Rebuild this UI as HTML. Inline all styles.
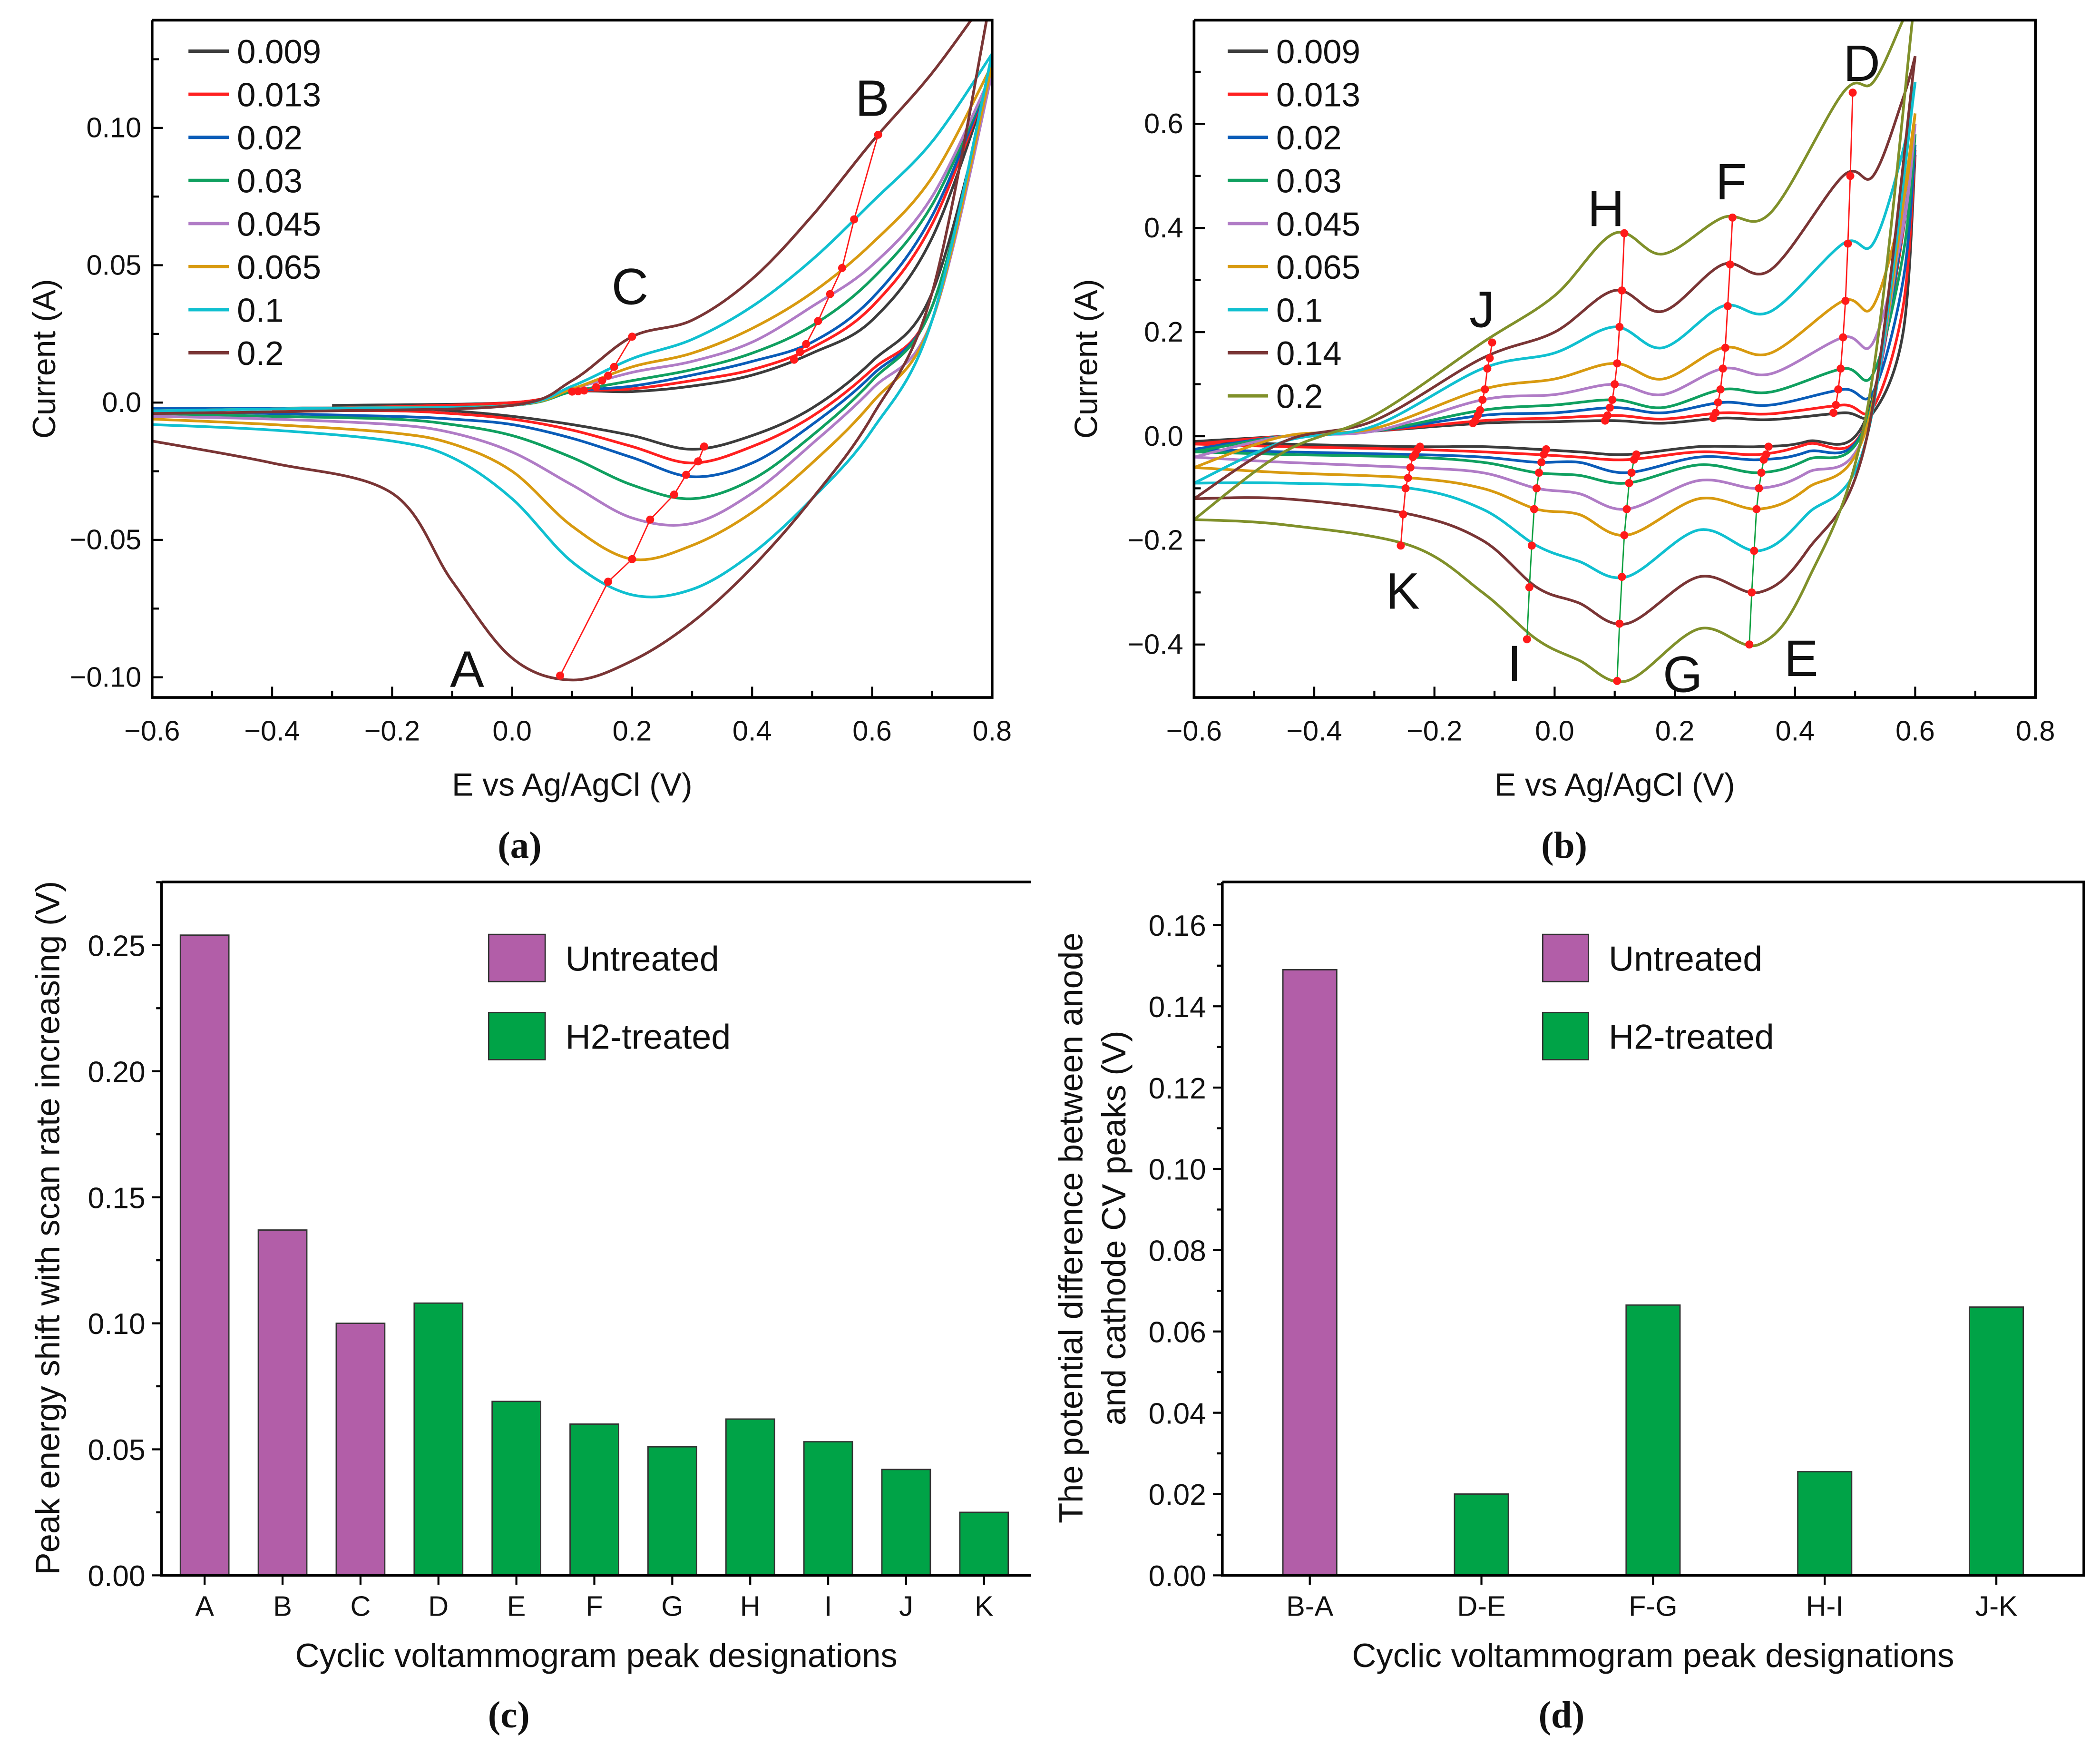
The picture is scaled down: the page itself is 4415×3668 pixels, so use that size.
<!DOCTYPE html>
<html><head><meta charset="utf-8"><style>
html,body{margin:0;padding:0;background:#fff;}
svg{display:block;font-family:"Liberation Sans",sans-serif;}
</style></head><body>
<svg id="fig" width="4415" height="3668" viewBox="0 0 1560 1296" preserveAspectRatio="none" xmlns="http://www.w3.org/2000/svg">
<rect width="1560" height="1296" fill="#fff"/>
<g id="pa"></g>
<g id="pb"></g>
<g id="pc"></g>
<g id="pd"></g>
</svg>
<script>
// ---------- Panel (a) data ----------
const aRates = ["0.009","0.013","0.02","0.03","0.045","0.065","0.1","0.2"];
const aColors = ["#3c3c3c","#ff2020","#0a5cb8","#10a060","#b07cc6","#d89a10","#10c0d0","#7a3535"];
const aUpE = [-0.6,-0.3,0,0.1,0.2,0.3,0.4,0.5,0.6,0.7,0.8];
const aLoE = [0.8,0.7,0.6,0.5,0.4,0.3,0.2,0.1,0,-0.1,-0.2,-0.4,-0.6];
const aUp = [
 [null,-0.001,0,0.004,0.004,0.006,0.01,0.018,0.03,0.06,0.12],
 [null,-0.002,0,0.004,0.005,0.008,0.012,0.02,0.035,0.065,0.12],
 [-0.002,-0.002,-0.001,0.004,0.006,0.01,0.015,0.022,0.038,0.068,0.12],
 [-0.003,-0.002,-0.001,0.004,0.008,0.012,0.018,0.028,0.045,0.072,0.12],
 [-0.003,-0.002,-0.001,0.005,0.011,0.015,0.022,0.035,0.05,0.075,0.12],
 [-0.003,-0.002,-0.001,0.005,0.013,0.018,0.027,0.04,0.058,0.082,0.123],
 [-0.003,-0.002,-0.001,0.006,0.016,0.023,0.035,0.052,0.073,0.095,0.127],
 [-0.004,-0.003,-0.001,0.008,0.024,0.03,0.045,0.068,0.095,0.12,0.15]
];
const aLo = [
 [0.12,0.04,0.015,-0.002,-0.012,-0.017,-0.012,-0.008,-0.005,-0.003,-0.002,-0.002,null],
 [0.12,0.035,0.012,-0.005,-0.016,-0.022,-0.016,-0.01,-0.006,-0.004,-0.003,-0.003,null],
 [0.12,0.035,0.01,-0.008,-0.022,-0.027,-0.02,-0.013,-0.008,-0.006,-0.005,-0.004,-0.003],
 [0.12,0.035,0.008,-0.012,-0.028,-0.035,-0.03,-0.02,-0.012,-0.008,-0.006,-0.005,-0.004],
 [0.12,0.03,0.005,-0.015,-0.033,-0.044,-0.042,-0.03,-0.018,-0.011,-0.008,-0.006,-0.005],
 [0.123,0.03,0.0,-0.022,-0.04,-0.052,-0.057,-0.045,-0.025,-0.015,-0.011,-0.008,-0.006],
 [0.127,0.03,-0.01,-0.035,-0.055,-0.068,-0.07,-0.058,-0.035,-0.02,-0.014,-0.01,-0.008],
 [0.15,0.04,-0.005,-0.035,-0.06,-0.08,-0.094,-0.101,-0.093,-0.065,-0.033,-0.022,-0.014]
];
const aPeakAE = [0.32,0.31,0.29,0.27,0.23,0.2,0.16,0.08];
const aPeakBE = [0.47,0.48,0.49,0.51,0.53,0.55,0.57,0.61];
const aPeakCE = [0.1,0.11,0.12,0.14,0.15,0.16,0.17,0.2];
const aXTicks = [-0.6,-0.4,-0.2,0.0,0.2,0.4,0.6,0.8];
const aXLabels = ["\u22120.6","\u22120.4","\u22120.2","0.0","0.2","0.4","0.6","0.8"];
const aYTicks = [-0.1,-0.05,0,0.05,0.1];
const aYLabels = ["\u22120.10","\u22120.05","0.0","0.05","0.10"];

// ---------- Panel (b) data ----------
const bRates = ["0.009","0.013","0.02","0.03","0.045","0.065","0.1","0.14","0.2"];
const bColors = ["#3c3c3c","#ff2020","#0a5cb8","#10a060","#b07cc6","#d89a10","#10c0d0","#7a3535","#80902a"];
const bUpE = [-0.6,-0.45,-0.3,-0.12,0.0,0.1,0.18,0.28,0.36,0.48,0.53,0.58,0.6];
const bLoE = [0.6,0.52,0.42,0.34,0.24,0.12,0.04,-0.03,-0.12,-0.24,-0.45,-0.6];
const bUp = [
 [-0.01,0,0.01,0.025,0.028,0.03,0.025,0.035,0.032,0.045,0.045,0.2,0.54],
 [-0.015,0,0.01,0.03,0.035,0.04,0.033,0.045,0.043,0.06,0.055,0.25,0.55],
 [-0.025,0,0.01,0.04,0.045,0.055,0.045,0.065,0.06,0.09,0.085,0.3,0.56],
 [-0.03,0,0.01,0.05,0.06,0.07,0.055,0.09,0.085,0.13,0.12,0.35,0.58],
 [-0.04,0,0.01,0.07,0.08,0.1,0.08,0.13,0.12,0.19,0.18,0.4,0.6],
 [-0.06,0,0.015,0.09,0.11,0.14,0.11,0.17,0.16,0.26,0.25,0.45,0.62],
 [-0.09,-0.01,0.02,0.13,0.16,0.21,0.17,0.25,0.24,0.37,0.37,0.55,0.68],
 [-0.12,-0.01,0.03,0.15,0.2,0.28,0.24,0.33,0.32,0.5,0.5,0.65,0.73],
 [-0.16,-0.03,0.04,0.18,0.27,0.39,0.35,0.42,0.43,0.66,0.68,0.8,0.85]
];
const bLo = [
 [0.54,0.04,-0.01,-0.02,-0.02,-0.035,-0.03,-0.025,-0.02,-0.02,-0.015,-0.01],
 [0.55,0.03,-0.015,-0.035,-0.03,-0.045,-0.04,-0.035,-0.03,-0.025,-0.02,-0.015],
 [0.56,0.03,-0.03,-0.045,-0.04,-0.07,-0.05,-0.05,-0.04,-0.035,-0.03,-0.025],
 [0.58,0.03,-0.045,-0.07,-0.055,-0.09,-0.075,-0.07,-0.05,-0.04,-0.035,-0.03],
 [0.6,0.02,-0.07,-0.1,-0.085,-0.14,-0.11,-0.1,-0.07,-0.06,-0.05,-0.04],
 [0.62,0.02,-0.1,-0.14,-0.12,-0.19,-0.15,-0.14,-0.1,-0.08,-0.07,-0.06],
 [0.68,0.0,-0.15,-0.22,-0.18,-0.27,-0.24,-0.21,-0.14,-0.1,-0.09,-0.09],
 [0.73,0.0,-0.22,-0.3,-0.27,-0.36,-0.32,-0.29,-0.2,-0.15,-0.12,-0.12],
 [0.85,0.05,-0.28,-0.4,-0.37,-0.47,-0.43,-0.39,-0.3,-0.21,-0.17,-0.16]
];
const bUpPeakIdx = [3,5,7,9];   // J H F D
const bLoPeakIdx = [3,5,7,9];   // E G I K
const bLoPeakColors = ["#10a040","#10a040","#10a040","#ff2020"];
const bXTicks = [-0.6,-0.4,-0.2,0.0,0.2,0.4,0.6,0.8];
const bXLabels = ["\u22120.6","\u22120.4","\u22120.2","0.0","0.2","0.4","0.6","0.8"];
const bYTicks = [-0.4,-0.2,0,0.2,0.4,0.6];
const bYLabels = ["\u22120.4","\u22120.2","0.0","0.2","0.4","0.6"];

// ---------- Panel (c) data ----------
const cCats = ["A","B","C","D","E","F","G","H","I","J","K"];
const cVals = [0.254,0.137,0.100,0.108,0.069,0.060,0.051,0.062,0.053,0.042,0.025];
const cGroup = [0,0,0,1,1,1,1,1,1,1,1];
const cYTicks = [0,0.05,0.1,0.15,0.2,0.25];
const cYLabels = ["0.00","0.05","0.10","0.15","0.20","0.25"];

// ---------- Panel (d) data ----------
const dCats = ["B-A","D-E","F-G","H-I","J-K"];
const dVals = [0.149,0.020,0.0665,0.0255,0.066];
const dGroup = [0,1,1,1,1];
const dYTicks = [0,0.02,0.04,0.06,0.08,0.1,0.12,0.14,0.16];
const dYLabels = ["0.00","0.02","0.04","0.06","0.08","0.10","0.12","0.14","0.16"];

const groupColors = ["#b25ea8","#00a347"];
const NS="http://www.w3.org/2000/svg";
function el(tag,attrs,parent,text){const e=document.createElementNS(NS,tag);for(const k in attrs)e.setAttribute(k,attrs[k]);if(text!==undefined)e.textContent=text;parent.appendChild(e);return e;}
function lin(d0,d1,r0,r1){return v=>r0+(v-d0)*(r1-r0)/(d1-d0);}
function smooth(pts){
 if(pts.length<2)return "";
 let d="M"+pts[0][0].toFixed(2)+","+pts[0][1].toFixed(2);
 for(let i=0;i<pts.length-1;i++){
  const p0=pts[i-1]||pts[i],p1=pts[i],p2=pts[i+1],p3=pts[i+2]||p2;
  const c1=[p1[0]+(p2[0]-p0[0])/6,p1[1]+(p2[1]-p0[1])/6];
  const c2=[p2[0]-(p3[0]-p1[0])/6,p2[1]-(p3[1]-p1[1])/6];
  d+="C"+c1[0].toFixed(2)+","+c1[1].toFixed(2)+" "+c2[0].toFixed(2)+","+c2[1].toFixed(2)+" "+p2[0].toFixed(2)+","+p2[1].toFixed(2);
 }
 return d;
}
function interp(E,I,e){
 for(let i=0;i<E.length-1;i++){
  const a=E[i],b=E[i+1];
  if((e-a)*(e-b)<=0&&I[i]!==null&&I[i+1]!==null){return I[i]+(I[i+1]-I[i])*(e-a)/(b-a);}
 }
 return null;
}
function frame(g,x0,y0,x1,y1,right){
 const f=el("path",{d:`M${x0},${y0}V${y1}H${x1}`+(right?`V${y0}H${x0}`:`M${x0},${y0}H${x1}`),fill:"none",stroke:"#000","stroke-width":2},g);
 
 
}
function text(g,x,y,s,size,name,anchor,extra){
 const t=el("text",Object.assign({x:x,y:y,"font-size":size,"text-anchor":anchor||"middle",fill:"#111"},extra||{}),g,s);
 
 
 return t;
}

function cvPanel(g,opt){
 const X=lin(-0.6,0.8,opt.x0,opt.x1), Y=lin(opt.ya,opt.yb,opt.pa,opt.pb);
 const clipId=opt.id+"clip";
 const cp=el("clipPath",{id:clipId},g); el("rect",{x:opt.x0,y:opt.y0,width:opt.x1-opt.x0,height:opt.y1-opt.y0},cp);
 opt.xt.forEach((v,i)=>{
  const t=el("line",{x1:X(v),x2:X(v),y1:opt.y1,y2:opt.y1-8,stroke:"#000","stroke-width":1.5},g);
  
  
  if(i<opt.xt.length-1){const m=el("line",{x1:X(v+0.1),x2:X(v+0.1),y1:opt.y1,y2:opt.y1-5,stroke:"#000","stroke-width":1.5},g);
   
   }
  text(g,X(v),opt.y1+32,opt.xl[i],21,"x-tick-label");
 });
 opt.yt.forEach((v,i)=>{
  const t=el("line",{x1:opt.x0,x2:opt.x0+8,y1:Y(v),y2:Y(v),stroke:"#000","stroke-width":1.5},g);
  
  
  const mv=v+opt.ystep/2; if(Y(mv)>opt.y0){const m=el("line",{x1:opt.x0,x2:opt.x0+5,y1:Y(mv),y2:Y(mv),stroke:"#000","stroke-width":1.5},g);
   
   }
  text(g,opt.x0-8,Y(v)+7,opt.yl[i],21,"y-tick-label","end");
 });
 const cg=el("g",{"clip-path":`url(#${clipId})`},g);
 
 
 opt.rates.forEach((r,k)=>{
  const up=[];opt.upE.forEach((e,i)=>{if(opt.up[k][i]!==null)up.push([X(e),Y(opt.up[k][i])]);});
  const lo=[];opt.loE.forEach((e,i)=>{if(opt.lo[k][i]!==null)lo.push([X(e),Y(opt.lo[k][i])]);});
  const p1=el("path",{d:smooth(up),fill:"none",stroke:opt.colors[k],"stroke-width":2},cg);
  
  
  const p2=el("path",{d:smooth(lo),fill:"none",stroke:opt.colors[k],"stroke-width":2},cg);
  
  
 });
 opt.rates.forEach((r,k)=>{
  const y=opt.ly+k*32;
  const l=el("line",{x1:opt.lx,x2:opt.lx+30,y1:y,y2:y,stroke:opt.colors[k],"stroke-width":2.5},g);
  
  
  text(g,opt.lx+36,y+9,r,25,"legend-label-"+r,"start");
 });
 frame(g,opt.x0,opt.y0,opt.x1,opt.y1,true);
 text(g,(opt.x0+opt.x1)/2,591,"E vs Ag/AgCl (V)",24,"x-axis-title");
 text(g,0,0,"Current (A)",24,"y-axis-title","middle",{transform:`translate(${opt.x0-72},${(opt.y0+opt.y1)/2}) rotate(-90)`});
 return {X,Y,cg};
}
function peakLine(cg,pts,color,name){
 const pl=el("polyline",{points:pts.map(p=>p.join(",")).join(" "),fill:"none",stroke:color,"stroke-width":1},cg);
 
 
 pts.forEach(p=>{const c=el("circle",{cx:p[0],cy:p[1],r:3,fill:"#ff1a1a"},cg);
  
  });
}

(function(){
 const g=document.getElementById("pa");
 const r=cvPanel(g,{id:"a",x0:113,x1:737,y0:15,y1:518,ya:0,yb:0.1,pa:299,pb:95,ystep:0.05,
  rates:aRates,colors:aColors,upE:aUpE,loE:aLoE,up:aUp,lo:aLo,xt:aXTicks,xl:aXLabels,yt:aYTicks,yl:aYLabels,lx:140,ly:38});
 const A=aRates.map((_,k)=>[r.X(aPeakAE[k]),r.Y(interp(aLoE,aLo[k],aPeakAE[k]))]);
 const B=aRates.map((_,k)=>[r.X(aPeakBE[k]),r.Y(interp(aUpE,aUp[k],aPeakBE[k]))]);
 const C=aRates.map((_,k)=>[r.X(aPeakCE[k]),r.Y(interp(aUpE,aUp[k],aPeakCE[k]))]);
 peakLine(r.cg,A,"#ff1a1a","peak-A");peakLine(r.cg,B,"#ff1a1a","peak-B");peakLine(r.cg,C,"#ff1a1a","peak-C");
 text(g,347,510,"A",38,"peak-label-A");text(g,648,86,"B",38,"peak-label-B");text(g,468,226,"C",38,"peak-label-C");
 text(g,386,637,"(a)",28,"panel-label-a","middle",{"font-family":"Liberation Serif, serif","font-weight":"bold"});
})();
(function(){
 const g=document.getElementById("pb");
 const r=cvPanel(g,{id:"b",x0:887,x1:1512,y0:15,y1:518,ya:0,yb:0.6,pa:324,pb:92,ystep:0.2,
  rates:bRates,colors:bColors,upE:bUpE,loE:bLoE,up:bUp,lo:bLo,xt:bXTicks,xl:bXLabels,yt:bYTicks,yl:bYLabels,lx:912,ly:38});
 bUpPeakIdx.forEach((ix,j)=>{
  const pts=bRates.map((_,k)=>[r.X(bUpE[ix]+0.004*(k-4)),r.Y(bUp[k][ix])]);
  peakLine(r.cg,pts,"#ff1a1a","peak-"+["J","H","F","D"][j]);
 });
 bLoPeakIdx.forEach((ix,j)=>{
  const pts=bRates.map((_,k)=>[r.X(bLoE[ix]-0.004*(k-4)),r.Y(bLo[k][ix])]);
  peakLine(r.cg,pts,bLoPeakColors[j],"peak-"+["E","G","I","K"][j]);
 });
 const labs=[["D",1383,60],["F",1286,148],["H",1193,168],["J",1101,243],["K",1042,452],["I",1125,506],["G",1250,514],["E",1338,502]];
 labs.forEach(l=>text(g,l[1],l[2],l[0],38,"peak-label-"+l[0]));
 text(g,1162,637,"(b)",28,"panel-label-b","middle",{"font-family":"Liberation Serif, serif","font-weight":"bold"});
})();
function barPanel(g,opt){
 const Y=lin(0,opt.ymax,opt.y1,opt.yTop);
 opt.yt.forEach((v,i)=>{
  const t=el("line",{x1:opt.x0,x2:opt.x0-7,y1:Y(v),y2:Y(v),stroke:"#000","stroke-width":1.5},g);
  
  
  const mv=v+opt.ystep/2; if(Y(mv)>opt.y0){const m=el("line",{x1:opt.x0,x2:opt.x0-4,y1:Y(mv),y2:Y(mv),stroke:"#000","stroke-width":1.5},g);
   
   }
  text(g,opt.x0-12,Y(v)+8,opt.yl[i],22,"y-tick-label","end");
 });
 opt.cats.forEach((c,i)=>{
  const cx=opt.c0+i*opt.step;
  const b=el("rect",{x:cx-opt.bw/2,y:Y(opt.vals[i]),width:opt.bw,height:opt.y1-Y(opt.vals[i]),fill:groupColors[opt.group[i]],stroke:"#333","stroke-width":1},g);
  
  
  const t=el("line",{x1:cx,x2:cx,y1:opt.y1,y2:opt.y1+7,stroke:"#000","stroke-width":1.5},g);
  
  
  text(g,cx,opt.y1+30,c,21,"x-tick-label");
 });
 frame(g,opt.x0,opt.y0,opt.x1,opt.y1,opt.right);
 [["Untreated",0],["H2-treated",1]].forEach((L,i)=>{
  const y=opt.ly+i*58;
  const s=el("rect",{x:opt.lx,y:y,width:opt.lw,height:35,fill:groupColors[L[1]],stroke:"#333","stroke-width":1},g);
  
  
  text(g,opt.lx+opt.lw+15,y+27,L[0],26,"legend-label-"+L[0].toLowerCase(),"start");
 });
 text(g,(opt.x0+opt.x1)/2,1238,"Cyclic voltammogram peak designations",25,"x-axis-title");
}
(function(){
 const g=document.getElementById("pc");
 barPanel(g,{x0:120,x1:766,y0:655,y1:1170,yTop:702,ymax:0.25,ystep:0.05,yt:cYTicks,yl:cYLabels,
  cats:cCats,vals:cVals,group:cGroup,c0:152,step:57.9,bw:36,right:false,lx:363,lw:42,ly:694});
 text(g,0,0,"Peak energy shift with scan rate increasing (V)",25,"y-axis-title","middle",{transform:"translate(44,912) rotate(-90)"});
 text(g,378,1283,"(c)",28,"panel-label-c","middle",{"font-family":"Liberation Serif, serif","font-weight":"bold"});
})();
(function(){
 const g=document.getElementById("pd");
 barPanel(g,{x0:908,x1:1548,y0:655,y1:1170,yTop:687,ymax:0.16,ystep:0.02,yt:dYTicks,yl:dYLabels,
  cats:dCats,vals:dVals,group:dGroup,c0:973,step:127.5,bw:40,right:true,lx:1146,lw:34,ly:694});
 text(g,0,0,"The potential difference between anode",25,"y-axis-title-line1","middle",{transform:"translate(804,912) rotate(-90)"});
 text(g,0,0,"and cathode CV peaks (V)",25,"y-axis-title-line2","middle",{transform:"translate(836,912) rotate(-90)"});
 text(g,1160,1283,"(d)",28,"panel-label-d","middle",{"font-family":"Liberation Serif, serif","font-weight":"bold"});
})();
</script>
</body></html>
